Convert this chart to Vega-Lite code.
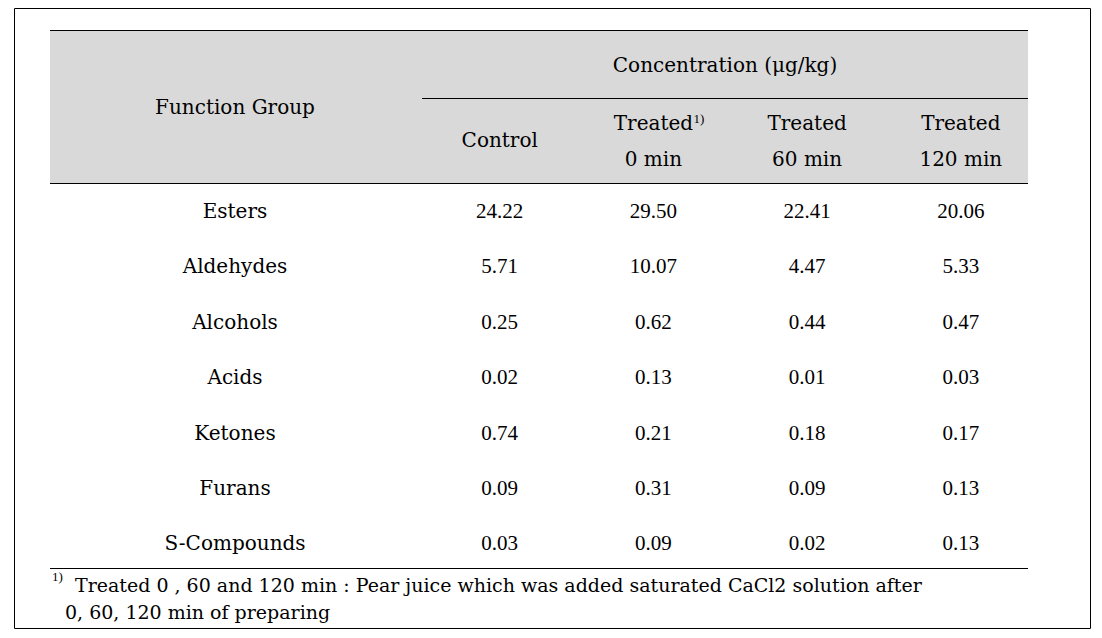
{
  "$schema": "https://vega.github.io/schema/vega-lite/v6.json",
  "width": 1076,
  "height": 620,
  "autosize": {"type": "none"},
  "padding": {"left": 14, "top": 8, "right": 12, "bottom": 10},
  "background": "white",
  "config": {
    "view": {"stroke": "#000", "strokeWidth": 1},
    "text": {"font": "DejaVu Serif", "fontSize": 20, "color": "#000", "baseline": "middle"}
  },
  "datasets": {
    "table": [
      {"group": "Esters", "column": "Control", "value": 24.22},
      {"group": "Esters", "column": "Treated 0 min", "value": 29.50},
      {"group": "Esters", "column": "Treated 60 min", "value": 22.41},
      {"group": "Esters", "column": "Treated 120 min", "value": 20.06},
      {"group": "Aldehydes", "column": "Control", "value": 5.71},
      {"group": "Aldehydes", "column": "Treated 0 min", "value": 10.07},
      {"group": "Aldehydes", "column": "Treated 60 min", "value": 4.47},
      {"group": "Aldehydes", "column": "Treated 120 min", "value": 5.33},
      {"group": "Alcohols", "column": "Control", "value": 0.25},
      {"group": "Alcohols", "column": "Treated 0 min", "value": 0.62},
      {"group": "Alcohols", "column": "Treated 60 min", "value": 0.44},
      {"group": "Alcohols", "column": "Treated 120 min", "value": 0.47},
      {"group": "Acids", "column": "Control", "value": 0.02},
      {"group": "Acids", "column": "Treated 0 min", "value": 0.13},
      {"group": "Acids", "column": "Treated 60 min", "value": 0.01},
      {"group": "Acids", "column": "Treated 120 min", "value": 0.03},
      {"group": "Ketones", "column": "Control", "value": 0.74},
      {"group": "Ketones", "column": "Treated 0 min", "value": 0.21},
      {"group": "Ketones", "column": "Treated 60 min", "value": 0.18},
      {"group": "Ketones", "column": "Treated 120 min", "value": 0.17},
      {"group": "Furans", "column": "Control", "value": 0.09},
      {"group": "Furans", "column": "Treated 0 min", "value": 0.31},
      {"group": "Furans", "column": "Treated 60 min", "value": 0.09},
      {"group": "Furans", "column": "Treated 120 min", "value": 0.13},
      {"group": "S-Compounds", "column": "Control", "value": 0.03},
      {"group": "S-Compounds", "column": "Treated 0 min", "value": 0.09},
      {"group": "S-Compounds", "column": "Treated 60 min", "value": 0.02},
      {"group": "S-Compounds", "column": "Treated 120 min", "value": 0.13}
    ],
    "headers": [
      {"column": "Control", "label": ["Control"]},
      {"column": "Treated 0 min", "label": ["Treated", "0 min"]},
      {"column": "Treated 60 min", "label": ["Treated", "60 min"]},
      {"column": "Treated 120 min", "label": ["Treated", "120 min"]}
    ]
  },
  "layer": [
    {
      "data": {"values": [{}]},
      "encoding": {
        "x": {"datum": 36, "type": "quantitative", "scale": {"domain": [0, 1076], "nice": false, "zero": false}, "axis": null},
        "y": {"datum": 22.5, "type": "quantitative", "scale": {"domain": [0, 620], "nice": false, "zero": false, "reverse": true}, "axis": null}
      },
      "layer": [
        {"mark": {"type": "rect", "fill": "#d9d9d9"}, "encoding": {"x2": {"datum": 1014}, "y2": {"datum": 175.5}}},
        {"mark": {"type": "rule", "color": "#000", "strokeWidth": 1}, "encoding": {"x2": {"datum": 1014}}},
        {"mark": {"type": "rule", "color": "#000", "strokeWidth": 1}, "encoding": {"x": {"datum": 408, "type": "quantitative"}, "x2": {"datum": 1014}, "y": {"datum": 90.5, "type": "quantitative"}}},
        {"mark": {"type": "rule", "color": "#000", "strokeWidth": 1}, "encoding": {"x2": {"datum": 1014}, "y": {"datum": 175.5, "type": "quantitative"}}},
        {"mark": {"type": "rule", "color": "#000", "strokeWidth": 1}, "encoding": {"x2": {"datum": 1014}, "y": {"datum": 560.5, "type": "quantitative"}}}
      ]
    },
    {
      "data": {"name": "table"},
      "encoding": {
        "x": {"field": "column", "type": "nominal", "scale": {"type": "point", "domain": ["Function Group", "Control", "Treated 0 min", "Treated 60 min", "Treated 120 min"], "range": [332, 946.8], "padding": 0}, "axis": null},
        "y": {"field": "group", "type": "nominal", "scale": {"type": "point", "domain": ["header", "Esters", "Aldehydes", "Alcohols", "Acids", "Ketones", "Furans", "S-Compounds"], "range": [148.8, 536.2], "padding": 0}, "axis": null}
      },
      "layer": [
        {"mark": {"type": "text", "align": "center", "font": "Liberation Serif", "fontSize": 21}, "encoding": {"text": {"field": "value", "type": "quantitative", "format": ".2f"}}},
        {
          "transform": [{"filter": "datum.column === 'Control'"}],
          "mark": {"type": "text", "align": "center", "dx": -111},
          "encoding": {"x": {"datum": "Function Group", "type": "nominal"}, "text": {"field": "group", "type": "nominal"}}
        },
        {
          "data": {"name": "headers"},
          "transform": [{"filter": "datum.column === 'Control'"}],
          "mark": {"type": "text", "align": "center", "dy": -15.6},
          "encoding": {"y": {"datum": "header", "type": "nominal"}, "text": {"field": "label"}}
        },
        {
          "data": {"name": "headers"},
          "transform": [{"filter": "datum.column !== 'Control'"}],
          "mark": {"type": "text", "align": "center", "dy": -32.6, "lineHeight": 36},
          "encoding": {"y": {"datum": "header", "type": "nominal"}, "text": {"field": "label"}}
        },
        {
          "data": {"values": [{}]},
          "mark": {"type": "text", "align": "left", "font": "Liberation Serif", "fontSize": 13, "dx": 40, "dy": -38, "text": "1)"},
          "encoding": {"x": {"datum": "Treated 0 min", "type": "nominal"}, "y": {"datum": "header", "type": "nominal"}}
        },
        {
          "data": {"values": [{}]},
          "mark": {"type": "text", "align": "center", "dx": -111, "dy": -48.6, "text": "Function Group"},
          "encoding": {"x": {"datum": "Function Group", "type": "nominal"}, "y": {"datum": "header", "type": "nominal"}}
        },
        {
          "data": {"values": [{}]},
          "mark": {"type": "text", "align": "center", "dx": 71.6, "dy": -90.6, "text": "Concentration (μg/kg)"},
          "encoding": {"x": {"datum": "Treated 0 min", "type": "nominal"}, "y": {"datum": "header", "type": "nominal"}}
        },
        {
          "data": {"values": [{}]},
          "mark": {"type": "text", "align": "left", "font": "Liberation Serif", "fontSize": 13, "dx": -294, "dy": 33, "text": "1)"},
          "encoding": {"x": {"datum": "Function Group", "type": "nominal"}, "y": {"datum": "S-Compounds", "type": "nominal"}}
        },
        {
          "data": {"values": [{}]},
          "mark": {"type": "text", "align": "left", "fontSize": 19, "dx": -271, "dy": 42, "text": "Treated  0 , 60 and 120 min : Pear juice which was added saturated CaCl2 solution after"},
          "encoding": {"x": {"datum": "Function Group", "type": "nominal"}, "y": {"datum": "S-Compounds", "type": "nominal"}}
        },
        {
          "data": {"values": [{}]},
          "mark": {"type": "text", "align": "left", "fontSize": 19, "dx": -281, "dy": 69, "text": "0, 60, 120 min of preparing"},
          "encoding": {"x": {"datum": "Function Group", "type": "nominal"}, "y": {"datum": "S-Compounds", "type": "nominal"}}
        }
      ]
    }
  ],
  "resolve": {"scale": {"x": "independent", "y": "independent"}}
}
